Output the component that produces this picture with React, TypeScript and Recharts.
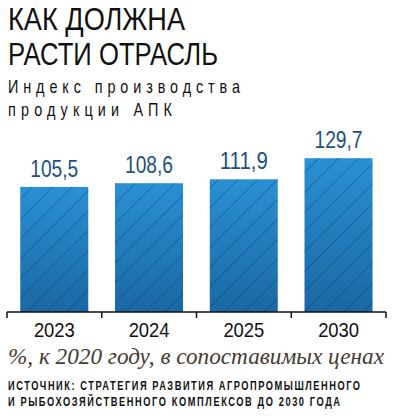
import React from 'react';
import { BarChart, Bar, XAxis, YAxis, LabelList } from 'recharts';

const years = ['2023', '2024', '2025', '2030'];
const values = [105.5, 108.6, 111.9, 129.7];
const valueLabels = ['105,5', '108,6', '111,9', '129,7'];

const data = years.map((year, i) => ({ year, value: values[i], label: valueLabels[i] }));

const W = 393;
const MARGIN = { top: 26, right: 7, left: 7, bottom: 0 };
const BAND = (W - MARGIN.left - MARGIN.right) / years.length;

const sans = '"Liberation Sans", Arial, sans-serif';

// text lines around the chart: [text, x, baseline, width]
const titleLines: [string, number, number, number][] = [
  ['КАК ДОЛЖНА', 8, 30, 177],
  ['РАСТИ ОТРАСЛЬ', 8, 65, 210],
];
const subtitleLines: [string, number, number, number][] = [
  ['Индекс производства', 8, 93, 232],
  ['продукции АПК', 8, 116, 164],
];
const sourceLines: [string, number, number, number][] = [
  ['ИСТОЧНИК: СТРАТЕГИЯ РАЗВИТИЯ АГРОПРОМЫШЛЕННОГО', 8, 390, 352],
  ['И РЫБОХОЗЯЙСТВЕННОГО КОМПЛЕКСОВ ДО 2030 ГОДА', 8, 406, 332],
];

const HatchedBar = (props: any) => {
  const { x, y, width, height } = props;
  if (!height || height <= 0) return null;
  return (
    <g>
      <rect x={x} y={y} width={width} height={height} fill="url(#barGrad)" />
      <rect x={x} y={y} width={width} height={height} fill="url(#hatch)" />
    </g>
  );
};

const ValueLabel = (props: any) => {
  const { x, y, width, value } = props;
  return (
    <text
      x={x + width / 2}
      y={y - 10}
      textAnchor="middle"
      fontFamily={sans}
      fontSize={23}
      fill="#1d4f80"
      textLength={48}
      lengthAdjust="spacingAndGlyphs"
    >
      {value}
    </text>
  );
};

const YearTick = (props: any) => {
  const { x, y, payload, index } = props;
  const left = x - BAND / 2;
  const right = x + BAND / 2;
  return (
    <g>
      <line x1={left} y1={y - 8} x2={left} y2={y - 2} stroke="#111" strokeWidth={1.5} />
      {index === years.length - 1 && (
        <line x1={right} y1={y - 8} x2={right} y2={y - 2} stroke="#111" strokeWidth={1.5} />
      )}
      <text
        x={x}
        y={y + 17}
        textAnchor="middle"
        fontFamily={sans}
        fontSize={21}
        fill="#111"
        textLength={41}
        lengthAdjust="spacingAndGlyphs"
      >
        {payload.value}
      </text>
    </g>
  );
};

// stretched line of text; squeeze < 1 narrows the glyphs and leaves the rest as spacing
const Line = ({ line, squeeze, ...rest }: any) => {
  if (squeeze) {
    return (
      <text
        transform={`translate(${line[1]},${line[2]}) scale(${squeeze},1)`}
        textLength={line[3] / squeeze}
        lengthAdjust="spacing"
        {...rest}
      >
        {line[0]}
      </text>
    );
  }
  return (
    <text x={line[1]} y={line[2]} textLength={line[3]} lengthAdjust="spacingAndGlyphs" {...rest}>
      {line[0]}
    </text>
  );
};

export default function App() {
  return (
    <div style={{ position: 'absolute', left: 0, top: 0, width: W, height: 416, background: '#fff', overflow: 'hidden' }}>
      <svg width={W} height={416} style={{ position: 'absolute', left: 0, top: 0 }}>
        {titleLines.map((l) => (
          <Line key={l[0]} line={l} fontFamily={sans} fontSize={31} fill="#111" />
        ))}
        {subtitleLines.map((l) => (
          <Line key={l[0]} line={l} squeeze={0.8} fontFamily={sans} fontSize={18} fill="#111" />
        ))}
        <Line
          line={['%, к 2020 году, в сопоставимых ценах', 8, 364, 376]}
          fontFamily='"Liberation Serif", serif'
          fontStyle="italic"
          fontSize={23}
          fill="#463a32"
        />
        {sourceLines.map((l) => (
          <Line key={l[0]} line={l} squeeze={0.74} fontFamily={sans} fontWeight="bold" fontSize={12.5} fill="#111" />
        ))}
      </svg>
      <div style={{ position: 'absolute', left: 0, top: 120 }}>
        <BarChart width={W} height={222} data={data} margin={MARGIN} barCategoryGap="14%">
          <defs>
            <linearGradient id="barGrad" x1="0" y1="0" x2="0" y2="1">
              <stop offset="0%" stopColor="#2a90d4" />
              <stop offset="100%" stopColor="#1a68a3" />
            </linearGradient>
            <pattern id="hatch" patternUnits="userSpaceOnUse" width="14" height="14" patternTransform="rotate(45)">
              <line x1="0" y1="0" x2="0" y2="14" stroke="#0b355c" strokeOpacity={0.75} strokeWidth={1} />
            </pattern>
          </defs>
          <YAxis hide domain={[0, 140]} />
          <XAxis
            dataKey="year"
            height={30}
            axisLine={{ stroke: '#111', strokeWidth: 1.5 }}
            tickLine={false}
            tick={<YearTick />}
            interval={0}
          />
          <Bar dataKey="value" shape={<HatchedBar />} isAnimationActive={false}>
            <LabelList dataKey="label" content={<ValueLabel />} />
          </Bar>
        </BarChart>
      </div>
    </div>
  );
}
